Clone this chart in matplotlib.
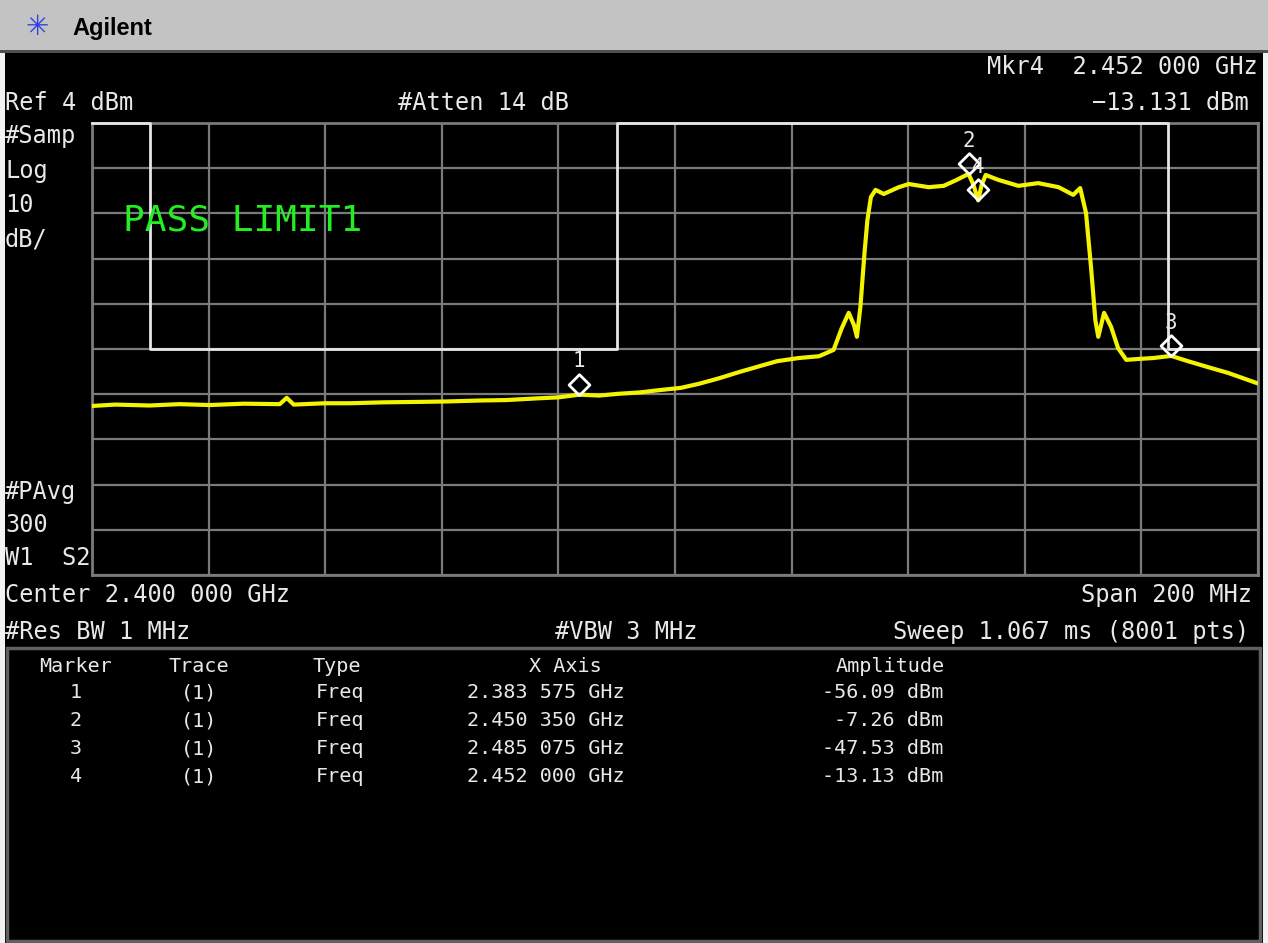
"""
Agilent spectrum analyzer screen: 2.4 GHz band with limit line and markers.
"""

import numpy as np
import matplotlib.pyplot as plt
from matplotlib.patches import Rectangle
from matplotlib.path import Path

trace_mhz = [2300.0, 2304.0, 2309.9, 2315.0, 2320.2, 2326.0, 2332.2, 2333.4, 2334.6,
             2340.0, 2344.2, 2350.0, 2356.2, 2361.0, 2366.4, 2371.0, 2376.7, 2380.0,
             2383.6, 2387.0, 2390.4, 2394.0, 2397.3, 2401.0, 2404.1, 2407.5, 2411.0,
             2414.5, 2417.5, 2421.2, 2424.7, 2427.2, 2428.6, 2429.8, 2430.7, 2431.2,
             2431.8, 2432.5, 2433.0, 2433.6, 2434.4, 2435.8, 2438.4, 2440.1, 2443.5,
             2446.1, 2448.3, 2450.35, 2451.2, 2452.0, 2452.6, 2453.3, 2455.5, 2458.9,
             2462.3, 2465.8, 2468.3, 2469.5, 2470.5, 2471.4, 2472.1, 2472.6, 2473.6,
             2474.8, 2476.0, 2477.4, 2479.5, 2482.0, 2485.1, 2488.0, 2491.4, 2494.9,
             2499.7]
trace_dbm = [-58.6, -58.3, -58.5, -58.2, -58.4, -58.1, -58.2, -56.8, -58.3,
             -58.0, -58.0, -57.8, -57.7, -57.6, -57.4, -57.3, -56.9, -56.7,
             -56.1, -56.3, -55.9, -55.6, -55.1, -54.6, -53.7, -52.5, -51.1,
             -49.8, -48.7, -48.0, -47.6, -46.2, -41.4, -38.0, -40.7, -43.3,
             -36.7, -24.8, -17.5, -12.4, -10.8, -11.7, -10.2, -9.5, -10.2,
             -9.9, -8.6, -7.26, -9.7, -13.13, -9.7, -7.5, -8.6, -9.9,
             -9.3, -10.2, -11.9, -10.4, -15.9, -28.5, -39.6, -43.3, -38.0,
             -41.1, -45.8, -48.4, -48.2, -48.0, -47.53, -48.7, -50.0, -51.3,
             -53.5]

limit_mhz = [2300.0, 2310.0, 2310.0, 2390.0, 2390.0, 2484.5, 2484.5, 2500.0]
limit_dbm = [4.0, 4.0, -46.0, -46.0, 4.0, 4.0, -46.0, -46.0]

marker_ids = ["1", "2", "3", "4"]
marker_mhz = [2383.575, 2450.350, 2485.075, 2452.000]
marker_dbm = [-56.09, -7.26, -47.53, -13.13]
marker_x_text = ["2.383 575 GHz", "2.450 350 GHz", "2.485 075 GHz", "2.452 000 GHz"]
marker_amp_text = ["-56.09 dBm", "-7.26 dBm", "-47.53 dBm", "-13.13 dBm"]

ref_level = 4.0
db_per_div = 10.0
f_start, f_stop = 2300.0, 2500.0

# --- figure ---------------------------------------------------------------
W, H = 1268, 943
fig = plt.figure(figsize=(W / 100, H / 100), dpi=100)
fig.patch.set_facecolor("#f2f2f2")

MONO = ["DejaVu Sans Mono"]
TXT = "#e8e8e8"
GRID = "#7a7a7a"


def px(x, y):
    """pixel coords (top-left origin) -> figure fraction"""
    return x / W, 1 - y / H


def ftext(x, y, s, ha="left", size=17, color=TXT, **kw):
    fx, fy = px(x, y)
    fig.text(fx, fy, s, ha=ha, va="center", fontsize=size, color=color,
             family=MONO, **kw)


# black screen and grey title bar
fig.patches.append(Rectangle(px(5, 943), 1258 / W, 893 / H, transform=fig.transFigure,
                             facecolor="black", edgecolor="none", zorder=0))
fig.patches.append(Rectangle(px(0, 50), 1, 50 / H, transform=fig.transFigure,
                             facecolor="#c3c3c3", edgecolor="none", zorder=0))
fig.patches.append(Rectangle(px(0, 53), 1, 3 / H, transform=fig.transFigure,
                             facecolor="#505050", edgecolor="none", zorder=0))
fig.text(*px(37, 27), "✳", ha="center", va="center", fontsize=20, color="#3040e0")
fig.text(*px(72, 28), "Agilent", ha="left", va="center", fontsize=17,
         fontweight="bold", family=["Liberation Sans"], color="black")

# --- trace area -----------------------------------------------------------
ax = fig.add_axes([92 / W, 1 - 575 / H, 1166 / W, 452 / H])
ax.set_zorder(2)
ax.set_facecolor("black")
ax.set_xlim(f_start, f_stop)
ax.set_ylim(ref_level - 10 * db_per_div, ref_level)
ax.set_xticks(np.linspace(f_start, f_stop, 11))
ax.set_yticks(np.linspace(ref_level - 10 * db_per_div, ref_level, 11))
ax.tick_params(length=0, labelbottom=False, labelleft=False)
ax.grid(True, color=GRID, linewidth=1.6)
ax.set_axisbelow(True)
for sp in ax.spines.values():
    sp.set_color(GRID)
    sp.set_linewidth(2)

ax.plot(limit_mhz, limit_dbm, color="#e6e6e6", linewidth=2, zorder=3, clip_on=False)
ax.plot(trace_mhz, trace_dbm, color="#f4f400", linewidth=3, zorder=4)

# diamond markers sitting with their lower tip on the trace point
tip_diamond = Path([(0, 0), (1, 1), (0, 2), (-1, 1), (0, 0)],
                   [Path.MOVETO, Path.LINETO, Path.LINETO, Path.LINETO, Path.CLOSEPOLY])
for mid, mx, my in zip(marker_ids, marker_mhz, marker_dbm):
    ax.plot([mx], [my], marker=tip_diamond, markersize=30, markerfacecolor="none",
            markeredgecolor="white", markeredgewidth=2, linestyle="none", zorder=5)
    ax.annotate(mid, (mx, my), xytext=(0, 24), textcoords="offset points",
                ha="center", va="center", fontsize=15, color=TXT, family=MONO, zorder=6)

ax.text(2305.3, -17.5, "PASS LIMIT1", ha="left", va="center", fontsize=26,
        color="#22ee22", family=MONO, zorder=6)

# --- annotations around the graticule -------------------------------------
ftext(5, 103, "Ref 4 dBm")
ftext(398, 103, "#Atten 14 dB")
ftext(1258, 67, "Mkr4  2.452 000 GHz", ha="right")
ftext(1249, 103, "\u221213.131 dBm", ha="right")

for label, y in [("#Samp", 136), ("Log", 171), ("10", 205), ("dB/", 240),
                 ("#PAvg", 492), ("300", 525), ("W1  S2", 558)]:
    ftext(5, y, label)

ftext(5, 595, "Center 2.400 000 GHz")
ftext(1252, 595, "Span 200 MHz", ha="right")
ftext(5, 632, "#Res BW 1 MHz")
ftext(555, 632, "#VBW 3 MHz")
ftext(1249, 632, "Sweep 1.067 ms (8001 pts)", ha="right")

# --- marker table ---------------------------------------------------------
fig.patches.append(Rectangle(px(7, 941), 1253 / W, 293 / H, transform=fig.transFigure,
                             facecolor="none", edgecolor="#606060", linewidth=2.5, zorder=1))
TS = 14.5
ftext(76, 667, "Marker", ha="center", size=TS)
ftext(199, 667, "Trace", ha="center", size=TS)
ftext(337, 667, "Type", ha="center", size=TS)
ftext(565, 667, "X Axis", ha="center", size=TS)
ftext(890, 667, "Amplitude", ha="center", size=TS)
for i, mid in enumerate(marker_ids):
    y = 693 + 28 * i
    ftext(76, y, mid, ha="center", size=TS)
    ftext(199, y, "(1)", ha="center", size=TS)
    ftext(316, y, "Freq", size=TS)
    ftext(467, y, marker_x_text[i], size=TS)
    ftext(943, y, marker_amp_text[i], ha="right", size=TS)

fig.savefig("out.png", dpi=100, facecolor=fig.get_facecolor())
